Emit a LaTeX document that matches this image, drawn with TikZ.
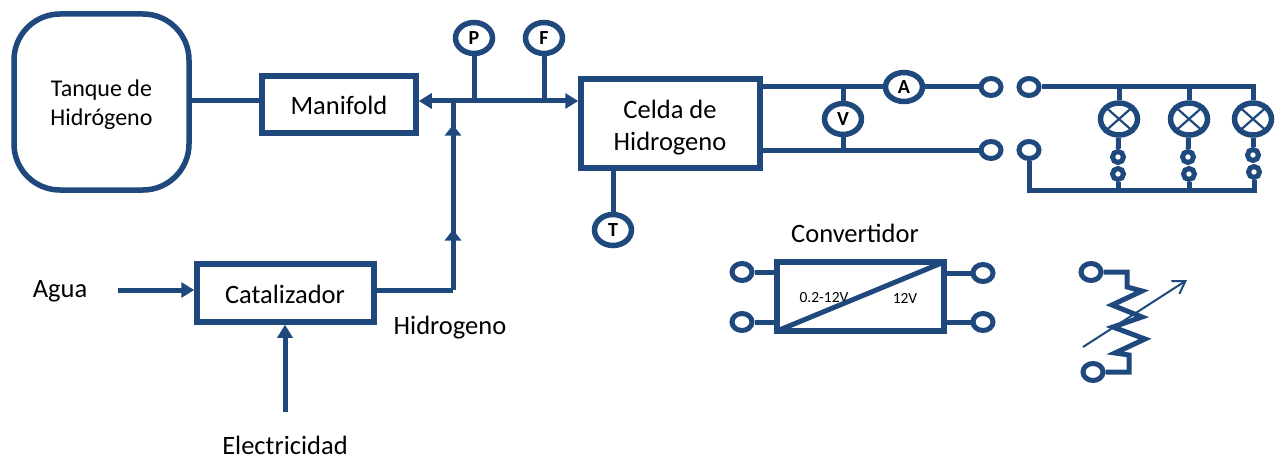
\documentclass[tikz,border=0pt]{standalone}
\usepackage{fontspec}
\setmainfont{Carlito}
\usepackage[usenames,dvipsnames]{xcolor}
\usetikzlibrary{shapes,decorations.markings,arrows.meta}
\definecolor{linecolor}{HTML}{1F497D}
\pgfdeclarelayer{edgelayer}
\pgfdeclarelayer{nodelayer}
\pgfsetlayers{edgelayer,nodelayer,main}
\tikzstyle{block}=[rectangle, draw=linecolor, fill=white, line width=5.5pt, inner sep=0pt, font=\fontsize{26.5}{30}\selectfont, align=center]
\tikzstyle{gauge}=[ellipse, draw=linecolor, fill=white, line width=5.5pt, inner sep=0pt, minimum width=37pt, minimum height=31pt, font=\fontsize{20}{22}\selectfont\bfseries]
\tikzstyle{lamp}=[ellipse, draw=linecolor, fill=white, line width=5.5pt, inner sep=0pt, minimum width=37pt, minimum height=32pt]
\tikzstyle{terminal}=[ellipse, draw=linecolor, fill=white, line width=5pt, inner sep=0pt, minimum width=20pt, minimum height=17pt]
\tikzstyle{contact}=[circle, draw=linecolor, fill=white, line width=5pt, inner sep=0pt, minimum size=11pt]
\tikzstyle{wire}=[-, draw=linecolor, line width=5pt]
\tikzstyle{feed}=[wire, -{Triangle[length=13pt,width=15pt]}]
\tikzstyle{riser}=[wire, postaction={decorate}, decoration={markings,
  mark=at position 0.32 with {\arrow{Triangle[length=11pt,width=16pt]}},
  mark=at position 0.875 with {\arrow{Triangle[length=11pt,width=16pt]}}}]
\tikzstyle{label}=[inner sep=0pt, font=\fontsize{26.5}{30}\selectfont, align=center]
\begin{document}
\begin{tikzpicture}[x=1pt, y=-1pt]
            \useasboundingbox (0, 0) rectangle (1278, 460);
            \begin{pgfonlayer}{nodelayer}
                \node [style=block, rounded corners=46pt, minimum width=175pt, minimum height=176pt] (tank) at (101.5, 102) {};
                \node [style=block, minimum width=154pt, minimum height=57pt] (manifold) at (339, 104.5) {};
                \node [style=block, minimum width=177pt, minimum height=58pt] (catalyst) at (285.5, 293) {};
                \node [style=block, minimum width=179pt, minimum height=89pt] (cell) at (670.5, 123.5) {};
                \node [style=block, outer sep=0pt, minimum width=167pt, minimum height=69pt] (converter) at (860.5, 296.5) {};

                \node [style=gauge] (P) at (474, 38) {P};
                \node [style=gauge] (F) at (544, 38) {F};
                \node [style=gauge] (T) at (613, 230) {T};
                \node [style=gauge, minimum height=29pt] (A) at (904, 87) {A};
                \node [style=gauge] (V) at (843, 119) {V};

                \node [style=terminal] (out1) at (991, 87) {};
                \node [style=terminal] (out2) at (991, 150) {};
                \node [style=terminal] (in1) at (1029, 87) {};
                \node [style=terminal] (in2) at (1029, 150) {};

                \node [style=lamp] (lamp1) at (1119, 119) {};
                \node [style=lamp] (lamp2) at (1189, 119) {};
                \node [style=lamp] (lamp3) at (1253, 119) {};
                \node [style=contact] (up1) at (1118, 157) {};
                \node [style=contact] (up2) at (1188, 157) {};
                \node [style=contact] (up3) at (1253, 155) {};
                \node [style=contact] (low1) at (1118, 174) {};
                \node [style=contact] (low2) at (1189, 174) {};
                \node [style=contact] (low3) at (1254, 172) {};

                \node [style=terminal] (convA) at (742, 272) {};
                \node [style=terminal] (convB) at (742, 322) {};
                \node [style=terminal] (convC) at (983, 273) {};
                \node [style=terminal] (convD) at (983, 322) {};
                \node [style=terminal] (resA) at (1091, 272) {};
                \node [style=terminal] (resB) at (1093, 372) {};

                \coordinate (tankout) at (189, 101);
                \coordinate (busP) at (474, 101);
                \coordinate (busF) at (544, 101);
                \coordinate (busJ) at (453, 101);
                \coordinate (corner) at (453, 290);
                \coordinate (waterin) at (118, 290);
                \coordinate (powerin) at (285, 412);
                \coordinate (cellT) at (613, 168);
                \coordinate (topV) at (843, 87);
                \coordinate (botV) at (843, 150);
                \coordinate (cellA) at (760, 87);
                \coordinate (cellB) at (760, 150);
                \coordinate (topR) at (1253, 87);
                \coordinate (botL) at (1029, 190);
                \coordinate (botR) at (1254, 190);
                \coordinate (slideA) at (1083, 347);
                \coordinate (slideB) at (1187, 280);

                \node [style=label, font=\fontsize{24}{29}\selectfont] (tanklabel) at (101.5, 105) {Tanque de\\Hidrógeno};
                \node [style=label] (manifoldlabel) at (339, 105.5) {Manifold};
                \node [style=label] (catalystlabel) at (285, 294) {Catalizador};
                \node [style=label, font=\fontsize{26.5}{32}\selectfont] (celllabel) at (670, 128) {Celda de\\Hidrogeno};
                \node [style=label] (water) at (60, 291) {Agua};
                \node [style=label] (gas) at (450, 328) {Hidrogeno};
                \node [style=label] (power) at (285, 445) {Electricidad};
                \node [style=label] (convname) at (855, 233) {Convertidor};
                \node [inner sep=0pt, font=\fontsize{15.5}{18}\selectfont] (lowV) at (824, 298) {0.2-12V};
                \node [inner sep=0pt, font=\fontsize{15.5}{18}\selectfont] (highV) at (905, 298) {12V};
            \end{pgfonlayer}
            \begin{pgfonlayer}{edgelayer}
                \draw [style=wire] (tankout) to (manifold.west |- tankout);
                \draw [style=feed] (busJ) to (manifold.east |- busJ);
                \draw [style=feed] (busJ) to (cell.west |- busJ);
                \draw [style=wire] (P) to (busP);
                \draw [style=wire] (F) to (busF);
                \draw [style=wire] (catalyst.east |- corner) to (corner);
                \draw [style=riser] (corner) to (busJ);
                \draw [style=feed] (waterin) to (catalyst.west |- waterin);
                \draw [style=feed] (powerin) to (catalyst.south -| powerin);
                \draw [style=wire] (cellT) to (T);

                \draw [style=wire] (cellA) to (A);
                \draw [style=wire] (A) to (out1);
                \draw [style=wire] (cellB) to (out2);
                \draw [style=wire] (topV) to (V);
                \draw [style=wire] (V) to (botV);

                \draw [style=wire, line join=miter] (in1) to (topR) to (lamp3);
                \draw [style=wire] (lamp1 |- topR) to (lamp1);
                \draw [style=wire] (lamp2 |- topR) to (lamp2);
                \draw [style=wire] (lamp1) to (up1);
                \draw [style=wire] (lamp2) to (up2);
                \draw [style=wire] (lamp3) to (up3);
                \draw [style=wire, line join=miter] (in2) to (botL) to (botR) to (low3);
                \draw [style=wire] (low1) to (low1 |- botL);
                \draw [style=wire] (low2) to (low2 |- botL);

                \draw [style=wire] (convA) to (convA -| converter.west);
                \draw [style=wire] (convB) to (convB -| converter.west);
                \draw [style=wire] (convC) to (convC -| converter.east);
                \draw [style=wire] (convD) to (convD -| converter.east);

                \draw [style=wire, line join=miter] (resA) -- (1127, 272) -- (1127, 287) -- (1142, 291) -- (1112, 305) -- (1142, 317) -- (1113, 327) -- (1145, 339) -- (1115, 353) -- (1129, 355) -- (1129, 372) -- (resB);
            \end{pgfonlayer}
            \draw [draw=linecolor, line width=5pt, shorten <=1.5pt, shorten >=1.5pt] (converter.south west) to (converter.north east);
            \draw [draw=linecolor, line width=2.2pt] (lamp1.north east) to (lamp1.south west);
            \draw [draw=linecolor, line width=2.2pt] (lamp1.north west) to (lamp1.south east);
            \draw [draw=linecolor, line width=2.2pt] (lamp2.north east) to (lamp2.south west);
            \draw [draw=linecolor, line width=2.2pt] (lamp2.north west) to (lamp2.south east);
            \draw [draw=linecolor, line width=2.2pt] (lamp3.north east) to (lamp3.south west);
            \draw [draw=linecolor, line width=2.2pt] (lamp3.north west) to (lamp3.south east);
            \draw [draw=linecolor, line width=2pt, -{Straight Barb[length=12pt,width=15pt]}] (slideA) to (slideB);
        \end{tikzpicture}
\end{document}
